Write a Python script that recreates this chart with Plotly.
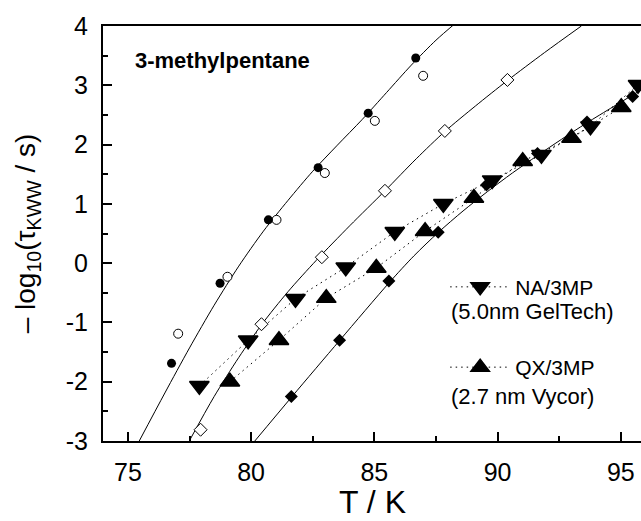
import plotly.graph_objects as go

# ---------------- data ----------------
# bulk 3MP, filled circles
circ_fill_T = [76.77, 78.74, 80.70, 82.72, 84.75, 86.68]
circ_fill_y = [-1.69, -0.34, 0.73, 1.61, 2.53, 3.46]
# bulk 3MP, open circles
circ_open_T = [77.04, 79.04, 81.03, 82.99, 85.02, 86.98]
circ_open_y = [-1.19, -0.23, 0.73, 1.52, 2.40, 3.16]
# open diamonds
diam_open_T = [77.95, 80.42, 82.87, 85.43, 87.86, 90.40]
diam_open_y = [-2.81, -1.03, 0.10, 1.22, 2.23, 3.09]
# filled diamonds
diam_fill_T = [81.63, 83.59, 85.59, 87.59, 89.55, 91.62, 93.63, 95.48]
diam_fill_y = [-2.25, -1.30, -0.30, 0.52, 1.32, 1.85, 2.38, 2.81]
# NA/3MP (5.0 nm GelTech), down triangles
na_T = [77.90, 79.88, 81.80, 83.84, 85.83, 87.80, 89.78, 91.78, 93.77, 95.70]
na_y = [-2.07, -1.30, -0.60, -0.07, 0.53, 1.00, 1.40, 1.83, 2.31, 3.01]
# QX/3MP (2.7 nm Vycor), up triangles
qx_T = [79.14, 81.13, 83.05, 85.08, 87.06, 89.04, 91.02, 93.00, 95.02]
qx_y = [-2.00, -1.30, -0.59, -0.08, 0.54, 1.10, 1.72, 2.11, 2.63]
# fitted curves
c1_T = [75.46, 76.5, 77.5, 78.5, 79.5, 80.5, 81.5, 82.5, 83.5, 84.5, 85.5, 86.5, 87.5, 88.3]
c1_y = [-3.00, -2.19, -1.43, -0.71, -0.05, 0.54, 1.06, 1.55, 1.99, 2.42, 2.88, 3.34, 3.76, 4.05]
c2_T = [77.49, 78.5, 79.5, 80.42, 81.5, 82.65, 84.0, 85.43, 86.7, 87.86, 89.1, 90.4, 91.9, 93.4]
c2_y = [-3.00, -2.25, -1.59, -1.04, -0.48, 0.05, 0.63, 1.22, 1.76, 2.22, 2.65, 3.08, 3.55, 4.00]
c3_T = [80.15, 81.66, 83.6, 85.6, 86.6, 87.6, 88.6, 89.6, 90.6, 91.6, 92.6, 93.6, 94.7, 95.82]
c3_y = [-3.00, -2.25, -1.30, -0.33, 0.12, 0.52, 0.88, 1.21, 1.52, 1.81, 2.09, 2.36, 2.64, 2.92]

x_range = [73.99, 95.82]
y_range = [-3, 4]
y_tick_vals = [-3, -2, -1, 0, 1, 2, 3, 4]
y_tick_text = ["-3", "-2", "-1", "0", "1", "2", "3", "4"]
x_tick_vals = [75, 80, 85, 90, 95]
x_tick_text = ["75", "80", "85", "90", "95"]

FONT = "Liberation Sans, Arial, sans-serif"

fig = go.Figure()

# fit curves
for T, y in [(c1_T, c1_y), (c2_T, c2_y), (c3_T, c3_y)]:
    fig.add_trace(go.Scatter(x=T, y=y, mode="lines",
                             line=dict(color="black", width=1, shape="spline", smoothing=0.8),
                             showlegend=False, hoverinfo="skip"))

# dotted connected triangles
fig.add_trace(go.Scatter(x=na_T, y=na_y, mode="lines+markers", name="NA/3MP",
                         legendgroup="na",
                         line=dict(color="black", width=1, dash="1.5px,4px"),
                         marker=dict(symbol="triangle-down", size=17, color="black",
                                     line=dict(color="black", width=1.5))))
fig.add_trace(go.Scatter(x=qx_T, y=qx_y, mode="lines+markers", name="QX/3MP",
                         legendgroup="qx",
                         line=dict(color="black", width=1, dash="1.5px,4px"),
                         marker=dict(symbol="triangle-up", size=17, color="black",
                                     line=dict(color="black", width=1.5))))

# diamonds and circles
fig.add_trace(go.Scatter(x=diam_fill_T, y=diam_fill_y, mode="markers", showlegend=False,
                         marker=dict(symbol="diamond", size=10, color="black")))
fig.add_trace(go.Scatter(x=diam_open_T, y=diam_open_y, mode="markers", showlegend=False,
                         marker=dict(symbol="diamond", size=10, color="white",
                                     line=dict(color="black", width=1))))
fig.add_trace(go.Scatter(x=circ_open_T, y=circ_open_y, mode="markers", showlegend=False,
                         marker=dict(symbol="circle", size=9, color="white",
                                     line=dict(color="black", width=1))))
fig.add_trace(go.Scatter(x=circ_fill_T, y=circ_fill_y, mode="markers", showlegend=False,
                         marker=dict(symbol="circle", size=9, color="black")))

axis_common = dict(showline=True, linewidth=2, linecolor="black", ticks="inside",
                   ticklen=9, tickwidth=2, tickcolor="black", showgrid=False,
                   zeroline=False, automargin=False,
                   tickfont=dict(family=FONT, size=25, color="black"))

fig.update_layout(
    width=641, height=521,
    margin=dict(l=103, r=0, t=26, b=80),
    paper_bgcolor="white", plot_bgcolor="white",
    font=dict(family=FONT, color="black"),
    xaxis=dict(range=x_range, tickvals=x_tick_vals, ticktext=x_tick_text, mirror=True,
               minor=dict(ticks="inside", ticklen=5, tickwidth=2, tickcolor="black",
                          tickvals=[77.5, 82.5, 87.5, 92.5]),
               ticklabelstandoff=8,
               **axis_common),
    yaxis=dict(range=y_range, tickvals=y_tick_vals, ticktext=y_tick_text,
               minor=dict(ticks="inside", ticklen=5, tickwidth=2, tickcolor="black",
                          tickvals=[-2.5, -1.5, -0.5, 0.5, 1.5, 2.5, 3.5]),
               ticklabelstandoff=8,
               title=dict(text="– log<sub>10</sub>(τ<sub>KWW</sub> / s)",
                          font=dict(family=FONT, size=28), standoff=22),
               **axis_common),
    legend=dict(x=0.636, y=0.42, xanchor="left", yanchor="top",
                bgcolor="rgba(0,0,0,0)", font=dict(family=FONT, size=21),
                tracegroupgap=50, itemwidth=60),
    annotations=[
        dict(text="T / K", xref="paper", yref="paper",
             x=0.5, y=-0.146, xanchor="center", yanchor="middle", showarrow=False,
             borderpad=0, font=dict(family=FONT, size=32, color="black")),
        dict(text="<b>3-methylpentane</b>", xref="paper", yref="paper",
             x=0.056, y=0.918, xanchor="left", yanchor="middle", showarrow=False,
             font=dict(family=FONT, size=22, color="black")),
        dict(text="(5.0nm GelTech)", xref="paper", yref="paper",
             x=0.643, y=0.311, xanchor="left", yanchor="middle", showarrow=False,
             font=dict(family=FONT, size=22, color="black")),
        dict(text="(2.7 nm Vycor)", xref="paper", yref="paper",
             x=0.643, y=0.108, xanchor="left", yanchor="middle", showarrow=False,
             font=dict(family=FONT, size=22, color="black")),
    ],
)

fig.write_html("out.html")
